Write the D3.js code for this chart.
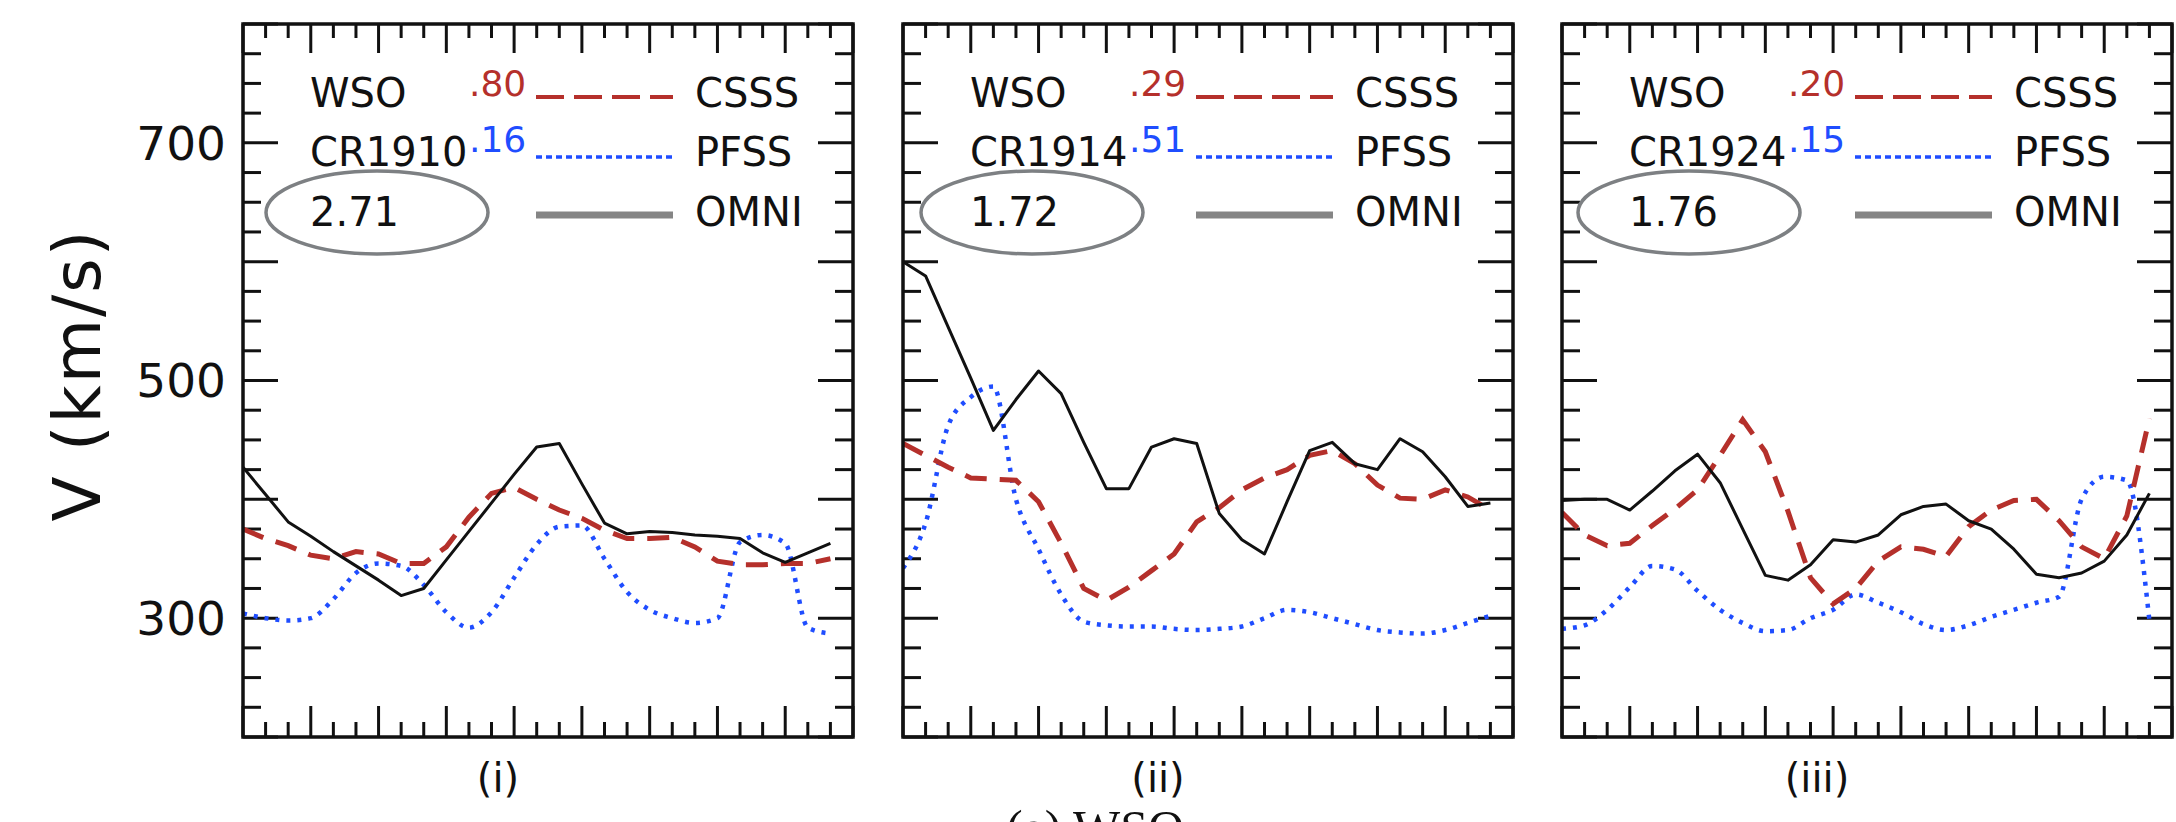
<!DOCTYPE html>
<html>
<head>
<meta charset="utf-8">
<script src="https://cdn.jsdelivr.net/npm/d3@7"></script>
<style>
    body { margin: 0; background: #fff; }
    svg { display: block; }
    text { font-family: "DejaVu Sans", sans-serif; fill: #111; }
</style>
</head>
<body>
<script>
//wrap everything in a self-executing anonymous function
(function(){

//day of the Carrington rotation for each daily point
var days = [0, 1, 2, 3, 4, 5, 6, 7, 8, 9, 10, 11, 12, 13, 14, 15, 16, 17, 18, 19, 20, 21, 22, 23, 24, 25, 26];

//panel labels and legend texts
var panelNames = ["(i)", "(ii)", "(iii)"];
var rotations = ["CR1910", "CR1914", "CR1924"];
var csssCorr = [".80", ".29", ".20"];
var pfssCorr = [".16", ".51", ".15"];
var ratios = ["2.71", "1.72", "1.76"];
var seriesNames = ["CSSS", "PFSS", "OMNI"];
var yTickLabels = [300, 500, 700];

//observed solar wind speed (km/s)
var omni1910 = [427, 404, 381, 369, 356, 344, 332, 319, 325, 349, 373, 397, 421, 444, 447, 413, 380, 371, 373, 372, 370, 369, 367, 355, 347, 355, 363];
var omni1914 = [600, 588, 545, 502, 458, 484, 508, 489, 448, 409, 409, 444, 451, 447, 388, 366, 354, 398, 441, 448, 430, 425, 451, 440, 419, 394, 397];
var omni1924 = [399, 400, 400, 391, 407, 424, 438, 414, 375, 336, 332, 345, 366, 364, 370, 387, 394, 396, 382, 375, 358, 337, 334, 338, 348, 370, 405];

//CSSS model speed
var csss1910 = [375, 367, 361, 353, 350, 356, 354, 346, 346, 360, 385, 405, 410, 400, 391, 384, 374, 367, 367, 368, 360, 348, 345, 345, 346, 346, 350];
var csss1914 = [447, 437, 427, 418, 417, 416, 398, 363, 325, 315, 326, 340, 354, 381, 393, 408, 418, 425, 437, 441, 430, 412, 401, 400, 408, 402, 391];
var csss1924 = [389, 370, 361, 363, 378, 392, 408, 437, 467, 440, 390, 334, 312, 325, 348, 360, 358, 352, 377, 391, 399, 400, 382, 360, 350, 386, 468];

//PFSS model speed
var pfss1910 = [304, 300, 298, 300, 316, 338, 346, 344, 328, 305, 292, 305, 334, 362, 377, 378, 350, 322, 307, 300, 296, 300, 364, 370, 363, 292, 287];
var pfss1914 = [342, 380, 462, 486, 495, 400, 358, 320, 297, 294, 293, 293, 291, 290, 291, 293, 300, 307, 305, 300, 295, 290, 288, 287, 290, 296, 302];
var pfss1924 = [291, 294, 307, 326, 344, 341, 323, 307, 296, 289, 290, 300, 307, 320, 313, 305, 295, 290, 294, 301, 307, 313, 318, 400, 419, 416, 298];

var omniSets = [omni1910, omni1914, omni1924];
var csssSets = [csss1910, csss1914, csss1924];
var pfssSets = [pfss1910, pfss1914, pfss1924];

//layout
var width = 2176,
    height = 822,
    panelLefts = [243, 903, 1562],
    panelWidth = 610,
    panelTop = 24,
    panelHeight = 713,
    ellipseOffsets = [134, 129, 127];

var redColor = "#b5302b",
    blueColor = "#1f4dff";

//begin script when window loads
window.onload = drawFigure();

function drawFigure(){

    var svg = d3.select("body")
        .append("svg")
        .attr("width", width)
        .attr("height", height);

    //shared scales
    var yScale = d3.scaleLinear()
        .domain([200, 800])
        .range([panelTop + panelHeight, panelTop]);

    for (var i=0; i<panelLefts.length; i++){
        drawPanel(svg, i, yScale);
    };

    //y axis title
    svg.append("text")
        .attr("transform", "translate(100,375) rotate(-90)")
        .attr("text-anchor", "middle")
        .style("font-size", "66px")
        .style("letter-spacing", "2px")
        .text("V (km/s)");

    //y tick labels on first panel only
    svg.selectAll(".yLabels")
        .data(yTickLabels)
        .enter()
        .append("text")
        .attr("class", "yLabels")
        .attr("x", 226)
        .attr("y", function(d){ return yScale(d); })
        .attr("dy", "0.36em")
        .attr("text-anchor", "end")
        .style("font-size", "47px")
        .text(function(d){ return d; });

    //caption of the figure, cut off at the bottom edge as in the source
    svg.append("text")
        .attr("x", 1006)
        .attr("y", 845)
        .style("font-family", "'Liberation Serif', serif")
        .style("font-size", "50px")
        .text("(a) WSO");
};

function drawPanel(svg, i, yScale){

    var left = panelLefts[i];

    var xScale = d3.scaleLinear()
        .domain([0, 27])
        .range([left, left + panelWidth]);

    var g = svg.append("g")
        .attr("class", "panel");

    //clip lines to the frame
    var clipId = "clip" + i;
    svg.append("clipPath")
        .attr("id", clipId)
        .append("rect")
        .attr("x", left)
        .attr("y", panelTop)
        .attr("width", panelWidth)
        .attr("height", panelHeight);

    //x ticks, inward on bottom and top
    var xTicks = d3.range(0, 28);
    g.selectAll(".xTickBottom")
        .data(xTicks)
        .enter()
        .append("line")
        .attr("x1", function(d){ return xScale(d); })
        .attr("x2", function(d){ return xScale(d); })
        .attr("y1", yScale(200))
        .attr("y2", function(d){ return yScale(200) - (d % 3 == 0 ? 31 : 15); })
        .attr("stroke", "#111")
        .attr("stroke-width", 3);
    g.selectAll(".xTickTop")
        .data(xTicks)
        .enter()
        .append("line")
        .attr("x1", function(d){ return xScale(d); })
        .attr("x2", function(d){ return xScale(d); })
        .attr("y1", yScale(800))
        .attr("y2", function(d){ return yScale(800) + (d % 3 == 0 ? 29 : 14); })
        .attr("stroke", "#111")
        .attr("stroke-width", 3);

    //y ticks, inward on left and right
    var yTicks = d3.range(200, 801, 25);
    g.selectAll(".yTickLeft")
        .data(yTicks)
        .enter()
        .append("line")
        .attr("x1", left)
        .attr("x2", function(d){ return left + (d % 100 == 0 ? 35 : 18); })
        .attr("y1", function(d){ return yScale(d); })
        .attr("y2", function(d){ return yScale(d); })
        .attr("stroke", "#111")
        .attr("stroke-width", 3);
    g.selectAll(".yTickRight")
        .data(yTicks)
        .enter()
        .append("line")
        .attr("x1", left + panelWidth)
        .attr("x2", function(d){ return left + panelWidth - (d % 100 == 0 ? 35 : 18); })
        .attr("y1", function(d){ return yScale(d); })
        .attr("y2", function(d){ return yScale(d); })
        .attr("stroke", "#111")
        .attr("stroke-width", 3);

    //series lines
    var linear = d3.line()
        .x(function(d, k){ return xScale(days[k]); })
        .y(function(d){ return yScale(d); });
    var smooth = d3.line()
        .x(function(d, k){ return xScale(days[k]); })
        .y(function(d){ return yScale(d); })
        .curve(d3.curveMonotoneX);

    var lines = g.append("g")
        .attr("clip-path", "url(#" + clipId + ")");

    lines.append("path")
        .datum(pfssSets[i])
        .attr("d", smooth)
        .attr("fill", "none")
        .attr("stroke", blueColor)
        .attr("stroke-width", 4.5)
        .attr("stroke-dasharray", "4,7");

    lines.append("path")
        .datum(csssSets[i])
        .attr("d", linear)
        .attr("fill", "none")
        .attr("stroke", redColor)
        .attr("stroke-width", 5)
        .attr("stroke-dasharray", "22,13");

    lines.append("path")
        .datum(omniSets[i])
        .attr("d", linear)
        .attr("fill", "none")
        .attr("stroke", "#111")
        .attr("stroke-width", 3)
        .attr("stroke-linejoin", "round");

    //frame
    g.append("rect")
        .attr("x", left)
        .attr("y", panelTop)
        .attr("width", panelWidth)
        .attr("height", panelHeight)
        .attr("fill", "none")
        .attr("stroke", "#111")
        .attr("stroke-width", 3.5);

    //legend block
    var rowY = [107, 166, 226];

    g.append("text")
        .attr("x", left + 67)
        .attr("y", rowY[0])
        .style("font-size", "40px")
        .text("WSO");
    g.append("text")
        .attr("x", left + 67)
        .attr("y", rowY[1])
        .style("font-size", "40px")
        .text(rotations[i]);
    g.append("text")
        .attr("x", left + 67)
        .attr("y", rowY[2])
        .style("font-size", "40px")
        .text(ratios[i]);

    g.append("ellipse")
        .attr("cx", left + ellipseOffsets[i])
        .attr("cy", 212.5)
        .attr("rx", 111)
        .attr("ry", 41.5)
        .attr("fill", "none")
        .attr("stroke", "#7d8083")
        .attr("stroke-width", 3.5);

    g.append("text")
        .attr("x", left + 226)
        .attr("y", 96)
        .style("font-size", "36px")
        .style("fill", redColor)
        .text(csssCorr[i]);
    g.append("text")
        .attr("x", left + 226)
        .attr("y", 152)
        .style("font-size", "36px")
        .style("fill", blueColor)
        .text(pfssCorr[i]);

    //legend line samples
    g.append("line")
        .attr("x1", left + 293).attr("x2", left + 430)
        .attr("y1", 97).attr("y2", 97)
        .attr("stroke", redColor)
        .attr("stroke-width", 4)
        .attr("stroke-dasharray", "28,10");
    g.append("line")
        .attr("x1", left + 293).attr("x2", left + 430)
        .attr("y1", 157).attr("y2", 157)
        .attr("stroke", blueColor)
        .attr("stroke-width", 3.5)
        .attr("stroke-dasharray", "6,4");
    g.append("line")
        .attr("x1", left + 293).attr("x2", left + 430)
        .attr("y1", 215).attr("y2", 215)
        .attr("stroke", "#858585")
        .attr("stroke-width", 7);

    g.selectAll(".seriesNames")
        .data(seriesNames)
        .enter()
        .append("text")
        .attr("x", left + 452)
        .attr("y", function(d, k){ return rowY[k]; })
        .style("font-size", "40px")
        .text(function(d){ return d; });

    //panel label under the frame
    svg.append("text")
        .attr("x", left + 255)
        .attr("y", 792)
        .attr("text-anchor", "middle")
        .style("font-size", "40px")
        .text(panelNames[i]);
};
})();
</script>
</body>
</html>
